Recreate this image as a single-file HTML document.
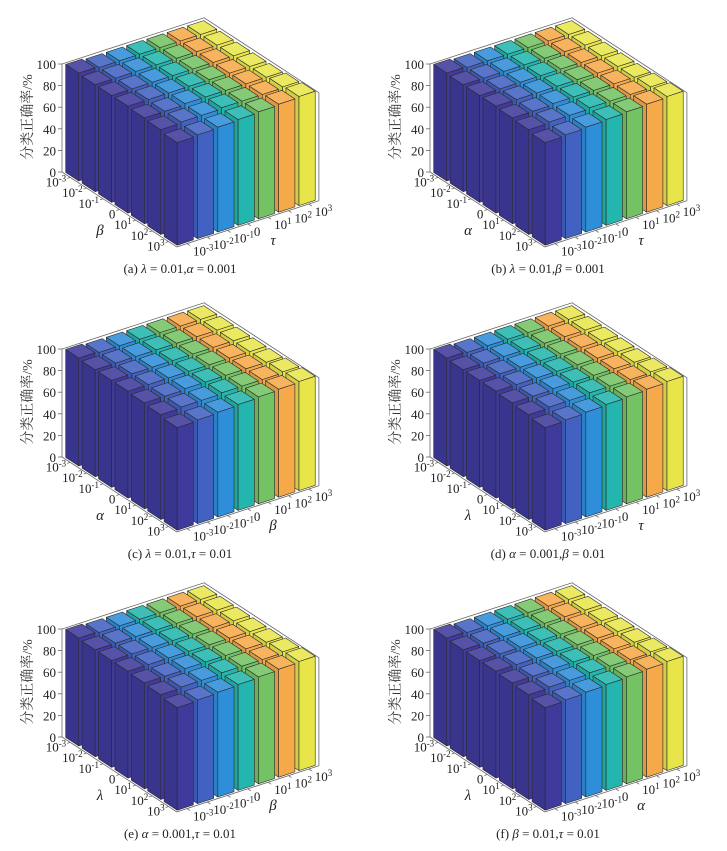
<!DOCTYPE html>
<html><head><meta charset="utf-8">
<style>
html,body{margin:0;padding:0;background:#fff;}
svg{display:block;font-family:"Liberation Serif","Noto Serif CJK SC",serif;}
</style></head>
<body>
<svg id="fig" width="727" height="851" viewBox="0 0 727 851" xmlns="http://www.w3.org/2000/svg"></svg>
<script>
// ---- data ----
const tickLabels = [["10","-3"],["10","-2"],["10","-1"],["0",""],["10","1"],["10","2"],["10","3"]];
const zTicks = [0,20,40,60,80,100];
const barColors = ['#3f3a9c','#4262c2','#2f8ed9','#22b6ae','#73c365','#f6a948','#e8e54b'];
const panelIds = ['a','b','c','d','e','f'];
const axis1Labels = ['β','α','α','λ','λ','λ'];
const axis2Labels = ['τ','τ','β','τ','β','α'];
const captionPre = ['(a) ','(b) ','(c) ','(d) ','(e) ','(f) '];
const captionG1 = ['λ','λ','λ','α','α','β'];
const captionV1 = [' = 0.01,',' = 0.01,',' = 0.01,',' = 0.001,',' = 0.001,',' = 0.01,'];
const captionG2 = ['α','β','τ','β','τ','τ'];
const captionV2 = [' = 0.001',' = 0.001',' = 0.01',' = 0.01',' = 0.01',' = 0.01'];
const valuesA = [
 [100,99,99,99,99,99,99],[99,99,99,99,99,99,99],[99,99,99,99,99,99,99],[99,99,99,99,99,99,99],
 [98,98,99,99,99,99,99],[97,98,98,99,99,99,100],[95,96,97,98,99,100,101]];
const valuesB = valuesA.map(r=>r.slice());
const valuesC = valuesA.map(r=>r.slice());
const valuesD = valuesA.map(r=>r.slice());
const valuesE = valuesA.map(r=>r.slice());
const valuesF = valuesA.map(r=>r.slice());
const allValues = [valuesA,valuesB,valuesC,valuesD,valuesE,valuesF];

// ---- geometry ----
const origins = [[62,172],[430,172],[62,457],[430,457],[62,737],[430,737]];
const DU=[16.4,10.7], DV=[20.3,-6.6], DZ=1.08;
const NS='http://www.w3.org/2000/svg';
const svg=document.getElementById('fig');
function mk(tag,attrs,parent){const e=document.createElementNS(NS,tag);for(const k in attrs)e.setAttribute(k,attrs[k]);(parent||svg).appendChild(e);return e;}
function shade(hex,f){let n=parseInt(hex.slice(1),16);let r=n>>16,g=(n>>8)&255,b=n&255;
 const c=x=>Math.max(0,Math.min(255,Math.round(f>1?x+(255-x)*(f-1):x*f)));
 return 'rgb('+c(r)+','+c(g)+','+c(b)+')';}

panelIds.forEach((pid,p)=>{
 const [ox,oy]=origins[p];
 const P=(u,v,z)=>[ox+u*DU[0]+v*DV[0], oy+u*DU[1]+v*DV[1]-z*DZ];
 const pts=a=>a.map(q=>q[0].toFixed(1)+','+q[1].toFixed(1)).join(' ');
 const g=mk('g',{});
 
 
 const box=mk('g',{stroke:'#666','stroke-width':0.8,fill:'none'},g);
 
 
 mk('polyline',{points:pts([P(0,0,0),P(0,0,100),P(0,7,100),P(7,7,100),P(7,7,0)])},box);
 mk('polyline',{points:pts([P(0,0,0),P(7,0,0),P(7,7,0)])},box);
 zTicks.forEach(t=>{
  const q=P(0,0,t);
  mk('line',{x1:q[0],y1:q[1],x2:q[0]-4,y2:q[1],stroke:'#666','stroke-width':0.8},g);
  const tx=mk('text',{x:q[0]-6,y:q[1]+5,'font-size':13,'text-anchor':'end',fill:'#222'},g);
  tx.textContent=t;
  
  
 });
 const vals=allValues[p];
 for(let i=0;i<7;i++){
  for(let j=6;j>=0;j--){
   const z=vals[i][j], c=barColors[j];
   const u0=i+0.1,u1=i+0.9,v0=j+0.1,v1=j+0.9;
   const bg=mk('g',{stroke:'#2a2a2a','stroke-width':0.6,'stroke-linejoin':'round'},g);
   
   
   mk('polygon',{points:pts([P(u0,v0,0),P(u1,v0,0),P(u1,v0,z),P(u0,v0,z)]),fill:shade(c,0.9)},bg);
   mk('polygon',{points:pts([P(u1,v0,0),P(u1,v1,0),P(u1,v1,z),P(u1,v0,z)]),fill:shade(c,1.0)},bg);
   mk('polygon',{points:pts([P(u0,v0,z),P(u1,v0,z),P(u1,v1,z),P(u0,v1,z)]),fill:shade(c,1.12)},bg);
  }
 }
 tickLabels.forEach((tl,i)=>{
  const q=P(i+0.5,0,0);
  mk('line',{x1:q[0],y1:q[1],x2:q[0]-3,y2:q[1]+1,stroke:'#666','stroke-width':0.8},g);
  const tx=mk('text',{x:q[0]-4,y:q[1]+9,'font-size':13,'text-anchor':'end',fill:'#222'},g);
  
  
  tx.appendChild(document.createTextNode(tl[0]));
  if(tl[1]){const s=mk('tspan',{'font-size':9,dy:-5},tx);s.textContent=tl[1];}
 });
 tickLabels.forEach((tl,j)=>{
  const q=P(7,j+0.5,0);
  mk('line',{x1:q[0],y1:q[1],x2:q[0]+3,y2:q[1]+2,stroke:'#666','stroke-width':0.8},g);
  const tx=mk('text',{x:q[0]+6,y:q[1]+12,'font-size':13,'text-anchor':'start',fill:'#222'},g);
  
  
  tx.appendChild(document.createTextNode(tl[0]));
  if(tl[1]){const s=mk('tspan',{'font-size':9,dy:-5},tx);s.textContent=tl[1];}
 });
 const a1=mk('text',{x:ox+38,y:oy+63,'font-size':15,'font-style':'italic',fill:'#222','text-anchor':'middle'},g);
 a1.textContent=axis1Labels[p];
 
 
 const a2=mk('text',{x:ox+211,y:oy+73,'font-size':15,'font-style':'italic',fill:'#222','text-anchor':'middle'},g);
 a2.textContent=axis2Labels[p];
 
 
 const yl=mk('text',{x:0,y:0,'font-size':14,fill:'#333','text-anchor':'middle',transform:'translate('+(ox-30)+','+(oy-55)+') rotate(-90)'},g);
 yl.textContent='分类正确率/%';
 
 
 const cap=mk('text',{x:ox+118,y:oy+101,'font-size':13,fill:'#222','text-anchor':'middle'},g);
 
 
 cap.appendChild(document.createTextNode(captionPre[p]));
 const g1=mk('tspan',{'font-style':'italic'},cap); g1.textContent=captionG1[p];
 cap.appendChild(document.createTextNode(captionV1[p]));
 const g2=mk('tspan',{'font-style':'italic'},cap); g2.textContent=captionG2[p];
 cap.appendChild(document.createTextNode(captionV2[p]));
});
</script>
</body></html>
